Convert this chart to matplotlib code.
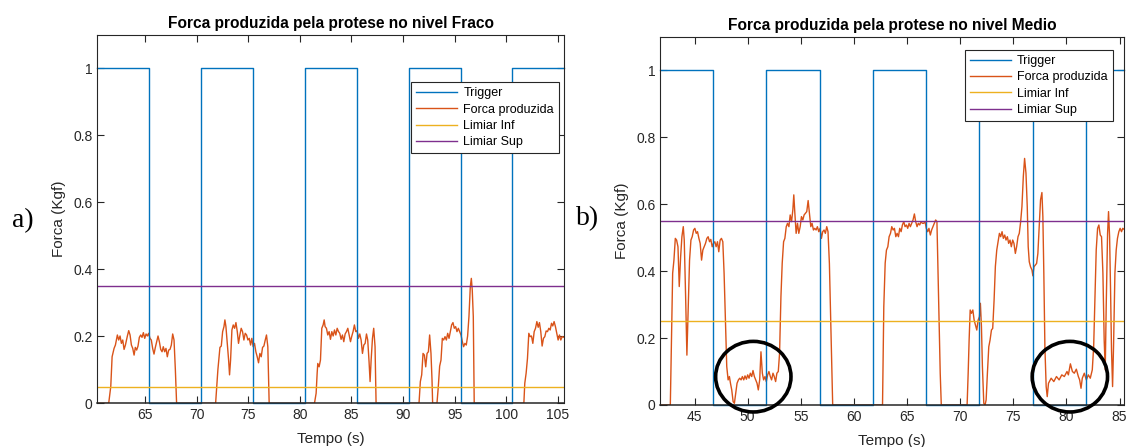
import matplotlib
matplotlib.use('Agg')
import matplotlib.pyplot as plt
from matplotlib.patches import Ellipse
from matplotlib.ticker import FormatStrFormatter

plt.rcParams['font.family'] = ['Liberation Sans', 'DejaVu Sans']

# colours (MATLAB default order)
C_TRIG = '#0072BD'
C_FORCA = '#D95319'
C_INF = '#EDB120'
C_SUP = '#7E2F8E'
C_AX = '#262626'

labels = ['Trigger', 'Forca produzida', 'Limiar Inf', 'Limiar Sup']

# ---- panel a) nivel Fraco ----
title_a = 'Forca produzida pela protese no nivel Fraco'
xlim_a = (60.38, 105.6)
xticks_a = [65, 70, 75, 80, 85, 90, 95, 100, 105]
trig_t_a = [60.38, 65.4, 70.45, 75.5, 80.52, 85.55, 90.55, 95.58, 100.6, 105.6]
trig_v_a = [1, 0, 1, 0, 1, 0, 1, 0, 1, 1]
lim_inf_a = 0.05
lim_sup_a = 0.35
forca_t_a = [
    60.38, 61.48, 61.68, 61.81, 62.0, 62.13, 62.32, 62.45, 62.58, 62.71,
    62.84, 62.97, 63.1, 63.29, 63.42, 63.55, 63.68, 63.81, 63.94, 64.06,
    64.19, 64.32, 64.45, 64.58, 64.71, 64.84, 64.97, 65.1, 65.23, 65.35,
    65.48, 65.61, 65.74, 65.87, 66.0, 66.13, 66.26, 66.39, 66.52, 66.65,
    66.77, 66.9, 67.03, 67.16, 67.29, 67.42, 67.55, 67.68, 67.81, 67.94,
    68.06,
    71.84, 72.06, 72.26, 72.39, 72.52, 72.65, 72.74, 72.84, 72.97, 73.1,
    73.19, 73.29, 73.42, 73.55, 73.68, 73.81, 73.94, 74.06, 74.19, 74.32,
    74.45, 74.58, 74.71, 74.84, 74.97, 75.1, 75.23, 75.35, 75.48, 75.61,
    75.74, 75.87, 76.0, 76.13, 76.26, 76.39, 76.52, 76.65, 76.77, 76.9,
    77.03,
    81.42, 81.58, 81.68, 81.74, 81.87, 82.0, 82.13, 82.26, 82.36, 82.45,
    82.58, 82.71, 82.84, 82.97, 83.1, 83.23, 83.36, 83.49, 83.62, 83.75,
    83.87, 84.0, 84.13, 84.26, 84.39, 84.52, 84.65, 84.78, 84.91, 85.04,
    85.16, 85.29, 85.42, 85.55, 85.68, 85.81, 85.94, 86.07, 86.2, 86.33,
    86.46, 86.58, 86.71, 86.81, 86.91, 87.04, 87.16, 87.29, 87.39,
    91.55, 91.68, 91.81, 91.94, 92.07, 92.2, 92.33, 92.46, 92.58, 92.71,
    92.81, 92.87, 93.29, 93.42, 93.55, 93.68, 93.81, 93.94, 94.07, 94.2,
    94.33, 94.46, 94.58, 94.71, 94.84, 94.97, 95.1, 95.23, 95.36, 95.49,
    95.62, 95.75, 95.87, 96.0, 96.13, 96.26, 96.39, 96.52, 96.62, 96.71,
    96.81, 96.9,
    101.71, 101.8, 101.93, 102.06, 102.19, 102.32, 102.45, 102.58, 102.71,
    102.84, 102.97, 103.1, 103.22, 103.35, 103.48, 103.61, 103.74, 103.87,
    104.0, 104.13, 104.26, 104.39, 104.51, 104.64, 104.77, 104.9, 105.03,
    105.16, 105.29, 105.42, 105.6,
]
forca_v_a = [
    0.0, 0.0, 0.05, 0.139, 0.164, 0.174, 0.204, 0.189, 0.201, 0.179,
    0.189, 0.161, 0.174, 0.201, 0.217, 0.204, 0.174, 0.164, 0.144, 0.167,
    0.159, 0.171, 0.197, 0.204, 0.197, 0.211, 0.194, 0.207, 0.201, 0.209,
    0.194, 0.189, 0.164, 0.147, 0.167, 0.184, 0.201, 0.184, 0.161, 0.154,
    0.169, 0.154, 0.164, 0.139, 0.159, 0.161, 0.174, 0.207, 0.189, 0.1,
    0.0,
    0.0, 0.1, 0.167, 0.171, 0.214, 0.229, 0.249, 0.229, 0.179, 0.129,
    0.085, 0.129, 0.219, 0.234, 0.224, 0.241, 0.214, 0.179, 0.204, 0.224,
    0.214, 0.189, 0.209, 0.204, 0.189, 0.194, 0.174, 0.194, 0.169, 0.179,
    0.154, 0.139, 0.121, 0.149, 0.139, 0.167, 0.171, 0.189, 0.204, 0.169,
    0.0,
    0.0, 0.03, 0.09, 0.119, 0.109, 0.129, 0.224, 0.234, 0.249, 0.229,
    0.224, 0.204, 0.214, 0.191, 0.214, 0.201, 0.219, 0.204, 0.224, 0.214,
    0.209, 0.191, 0.204, 0.184, 0.207, 0.214, 0.224, 0.204, 0.184, 0.201,
    0.214, 0.234, 0.214, 0.217, 0.194, 0.207, 0.189, 0.149, 0.174, 0.179,
    0.207, 0.189, 0.124, 0.065, 0.129, 0.194, 0.224, 0.169, 0.0,
    0.0, 0.065, 0.085, 0.149, 0.144, 0.109, 0.149, 0.154, 0.204, 0.149,
    0.07, 0.0, 0.0, 0.05, 0.111, 0.129, 0.194, 0.189, 0.199, 0.189,
    0.209, 0.194, 0.214, 0.234, 0.241, 0.224, 0.229, 0.214, 0.224, 0.214,
    0.204, 0.184, 0.169, 0.179, 0.174, 0.201, 0.259, 0.348, 0.373, 0.338,
    0.259, 0.0,
    0.0, 0.06, 0.09, 0.134, 0.209, 0.199, 0.201, 0.179, 0.214,
    0.224, 0.244, 0.227, 0.241, 0.214, 0.171, 0.194, 0.199, 0.216,
    0.214, 0.224, 0.219, 0.239, 0.231, 0.244, 0.229, 0.209, 0.189,
    0.204, 0.189, 0.199, 0.197,
]

# ---- panel b) nivel Medio ----
title_b = 'Forca produzida pela protese no nivel Medio'
xlim_b = (41.78, 85.42)
xticks_b = [45, 50, 55, 60, 65, 70, 75, 80, 85]
trig_t_b = [41.78, 46.72, 51.75, 56.78, 61.78, 66.78, 71.81, 76.84, 81.87, 85.42]
trig_v_b = [1, 0, 1, 0, 1, 0, 1, 0, 1, 1]
lim_inf_b = 0.25
lim_sup_b = 0.55
forca_t_b = [
    41.78, 42.72, 42.88, 42.94, 43.06, 43.19, 43.31, 43.44, 43.56, 43.69,
    43.81, 43.94, 44.03, 44.16, 44.28, 44.41, 44.53, 44.66, 44.78, 44.91,
    45.03, 45.16, 45.28, 45.41, 45.53, 45.66, 45.78, 45.91, 46.03, 46.16,
    46.28, 46.41, 46.53, 46.66, 46.78, 46.91, 47.03, 47.16, 47.28, 47.41,
    47.53, 47.66, 47.78, 47.91, 48.03, 48.16, 48.28, 48.38, 48.5, 48.63,
    48.75, 48.88, 49.0, 49.13, 49.25, 49.38, 49.5, 49.63, 49.75, 49.88,
    50.0, 50.13, 50.25, 50.38, 50.5, 50.63, 50.75, 50.88, 51.0, 51.13,
    51.25, 51.38, 51.5, 51.63, 51.75, 51.88, 52.0, 52.13, 52.25, 52.38,
    52.5, 52.63, 52.75, 52.88, 53.0, 53.13, 53.25, 53.38, 53.5, 53.63,
    53.75, 53.88, 54.0, 54.13, 54.25, 54.34, 54.44, 54.56, 54.69, 54.81,
    54.94, 55.06, 55.19, 55.31, 55.44, 55.56, 55.69, 55.81, 55.94, 56.06,
    56.19, 56.31, 56.44, 56.56, 56.69, 56.81, 56.94, 57.06, 57.19, 57.31,
    57.44, 57.56, 57.69, 57.81, 57.94, 58.0,
    62.69, 62.81, 62.94, 63.06, 63.19, 63.31, 63.44, 63.56, 63.69, 63.81,
    63.94, 64.06, 64.19, 64.31, 64.44, 64.56, 64.69, 64.81, 64.94, 65.06,
    65.19, 65.31, 65.44, 65.56, 65.69, 65.81, 65.94, 66.06, 66.19, 66.31,
    66.44, 66.56, 66.69, 66.81, 66.94, 67.06, 67.19, 67.31, 67.44, 67.56,
    67.69, 67.81, 67.87, 68.0, 68.12, 68.22,
    70.65, 70.75, 70.84, 70.94, 71.06, 71.19, 71.31, 71.44, 71.56, 71.69,
    71.81, 71.9, 72.0, 72.09, 72.22, 72.34, 72.44, 72.56, 72.69, 72.81,
    72.94, 73.06, 73.19, 73.31, 73.44, 73.56, 73.69, 73.81, 73.94, 74.06,
    74.19, 74.31, 74.44, 74.56, 74.69, 74.81, 74.94, 75.06, 75.19, 75.31,
    75.44, 75.56, 75.69, 75.81, 75.94, 76.06, 76.19, 76.31, 76.4, 76.5,
    76.62, 76.75, 76.84, 76.94, 77.06, 77.19, 77.31, 77.44, 77.56, 77.69,
    77.78, 77.87, 77.97, 78.09, 78.19, 78.31, 78.56, 78.81, 79.06, 79.31,
    79.56, 79.8, 80.05, 80.18, 80.37, 80.56, 80.74, 80.93, 81.12, 81.24,
    81.37, 81.49, 81.68, 81.87, 82.06, 82.24, 82.43, 82.56, 82.68, 82.8,
    82.93, 83.05, 83.18, 83.3, 83.43, 83.55, 83.65, 83.74, 83.87, 83.96,
    84.06, 84.15, 84.24, 84.34, 84.43, 84.56, 84.68, 84.8, 84.93, 85.05,
    85.18, 85.3, 85.42,
]
forca_v_b = [
    0.0, 0.0, 0.274, 0.394, 0.433, 0.498, 0.493, 0.473, 0.354, 0.443,
    0.503, 0.533, 0.493, 0.324, 0.149, 0.294, 0.433, 0.493, 0.503, 0.523,
    0.528, 0.513, 0.518, 0.498, 0.483, 0.433, 0.463, 0.473, 0.483, 0.498,
    0.503, 0.488, 0.495, 0.473, 0.483, 0.488, 0.473, 0.488, 0.458, 0.493,
    0.498, 0.488, 0.394, 0.244, 0.115, 0.075, 0.085, 0.065, 0.045, 0.01,
    0.005, 0.035, 0.065, 0.075, 0.08, 0.075, 0.085, 0.075, 0.087, 0.077,
    0.09, 0.08, 0.095, 0.085, 0.103, 0.085, 0.075, 0.065, 0.045, 0.075,
    0.159, 0.095, 0.075, 0.085, 0.07, 0.09, 0.1, 0.085, 0.075, 0.095,
    0.085, 0.07, 0.095, 0.1, 0.154, 0.324, 0.424, 0.488, 0.498, 0.533,
    0.543, 0.533, 0.568, 0.548, 0.583, 0.628, 0.573, 0.513, 0.543, 0.513,
    0.533, 0.563, 0.553, 0.568, 0.573, 0.578, 0.611, 0.573, 0.533, 0.543,
    0.523, 0.528, 0.523, 0.533, 0.518, 0.528, 0.498, 0.518, 0.523, 0.513,
    0.533, 0.518, 0.423, 0.254, 0.075, 0.0,
    0.0, 0.294, 0.424, 0.463, 0.473, 0.503, 0.513, 0.533, 0.523, 0.528,
    0.503, 0.513, 0.503, 0.528, 0.518, 0.538, 0.548, 0.533, 0.538, 0.528,
    0.543, 0.533, 0.543, 0.553, 0.571, 0.548, 0.533, 0.543, 0.538, 0.548,
    0.543, 0.543, 0.548, 0.528, 0.518, 0.528, 0.508, 0.523, 0.533, 0.543,
    0.553, 0.548, 0.463, 0.274, 0.095, 0.0,
    0.0, 0.095, 0.194, 0.284, 0.274, 0.284, 0.254, 0.239, 0.224, 0.254,
    0.264, 0.304, 0.234, 0.115, 0.005, 0.0, 0.015, 0.095, 0.174, 0.194,
    0.224, 0.229, 0.314, 0.414, 0.463, 0.488, 0.513, 0.503, 0.518, 0.498,
    0.508, 0.493, 0.503, 0.483, 0.493, 0.473, 0.493, 0.483, 0.453, 0.473,
    0.503, 0.513, 0.548, 0.593, 0.683, 0.737, 0.693, 0.593, 0.473, 0.428,
    0.413, 0.404, 0.386, 0.413, 0.418, 0.423, 0.453, 0.533, 0.613, 0.635,
    0.563, 0.394, 0.174, 0.055, 0.025, 0.065, 0.08, 0.07, 0.085, 0.075,
    0.09, 0.085, 0.1, 0.09, 0.123, 0.1, 0.095, 0.107, 0.085, 0.075,
    0.05, 0.08, 0.095, 0.075, 0.09, 0.08, 0.105, 0.174, 0.314, 0.463,
    0.528, 0.538, 0.508, 0.503, 0.394, 0.194, 0.105, 0.294, 0.513, 0.578,
    0.503, 0.344, 0.164, 0.055, 0.174, 0.394, 0.463, 0.498, 0.518, 0.528,
    0.518, 0.528, 0.525,
]

# black circles drawn on panel b (centre t, centre force)
circles_b = [(50.53, 0.0846), (80.32, 0.0846)]


def draw_panel(ax, title, xlim, xticks, trig_t, trig_v, forca_t, forca_v,
               lim_inf, lim_sup, legend_anchor):
    h2, = ax.plot(forca_t, forca_v, color=C_FORCA, lw=1.0, zorder=2)
    h1, = ax.step(trig_t, trig_v, where='post', color=C_TRIG, lw=1.0,
                  clip_on=False, zorder=2.2)
    h3 = ax.axhline(lim_inf, color=C_INF, lw=1.0, zorder=2.3)
    h4 = ax.axhline(lim_sup, color=C_SUP, lw=1.0, zorder=2.3)

    ax.set_xlim(*xlim)
    ax.set_ylim(0, 1.1)
    ax.set_xticks(xticks)
    ax.set_yticks([0, 0.2, 0.4, 0.6, 0.8, 1.0])
    ax.yaxis.set_major_formatter(FormatStrFormatter('%g'))
    ax.tick_params(direction='in', top=True, right=True, length=5,
                   width=0.8, color=C_AX, labelcolor=C_AX, labelsize=10)
    for sp in ax.spines.values():
        sp.set_color(C_AX)
        sp.set_linewidth(0.8)
    ax.spines['bottom'].set_linewidth(1.1)

    ax.set_title(title, fontsize=11.2, fontweight='bold', color='black',
                 pad=5)
    ax.set_xlabel('Tempo (s)', fontsize=11, color=C_AX, labelpad=7)
    ax.set_ylabel('Forca (Kgf)', fontsize=11, color=C_AX, labelpad=5)

    leg = ax.legend([h1, h2, h3, h4], labels, loc='upper right',
                    bbox_to_anchor=legend_anchor, borderaxespad=0,
                    fancybox=False, edgecolor=C_AX, framealpha=1,
                    fontsize=9, handlelength=3.3, labelspacing=0.35,
                    borderpad=0.4, handletextpad=0.5)
    leg.get_frame().set_linewidth(0.8)
    leg.set_zorder(6)


fig = plt.figure(figsize=(11.28, 4.47), dpi=100)
ax_a = fig.add_axes([0.0863, 0.0977, 0.4137, 0.8244])
ax_b = fig.add_axes([0.5854, 0.094, 0.4111, 0.8233])

draw_panel(ax_a, title_a, xlim_a, xticks_a, trig_t_a, trig_v_a,
           forca_t_a, forca_v_a, lim_inf_a, lim_sup_a, (0.989, 0.871))
draw_panel(ax_b, title_b, xlim_b, xticks_b, trig_t_b, trig_v_b,
           forca_t_b, forca_v_b, lim_inf_b, lim_sup_b, (0.9756, 0.9647))

for cx, cy in circles_b:
    ax_b.add_patch(Ellipse((cx, cy), 7.09, 0.211, fill=False, ec='black',
                           lw=2.6, clip_on=False, zorder=5))

fig.text(0.011, 0.507, 'a)', family='Liberation Serif', fontsize=20,
         va='center', ha='left')
fig.text(0.511, 0.51, 'b)', family='Liberation Serif', fontsize=20,
         va='center', ha='left')

fig.savefig('out.png', dpi=100)
